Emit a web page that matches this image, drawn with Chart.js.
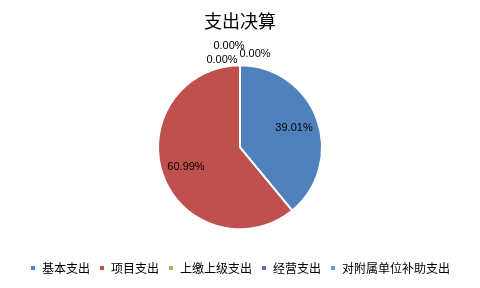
<!DOCTYPE html>
<html><head><meta charset="utf-8">
<script src="https://cdn.jsdelivr.net/npm/chart.js@4"></script>
<style>html,body{margin:0;padding:0;background:#fff}#wrap{width:480px;height:288px}</style>
</head><body><div id="wrap"><canvas id="c" width="480" height="288"></canvas></div>
<script>
const categories = ["基本支出","项目支出","上缴上级支出","经营支出","对附属单位补助支出"];
const values = [39.01, 60.99, 0.00, 0.00, 0.00];
const labelTexts = ["39.01%","60.99%","0.00%","0.00%","0.00%"];
const colors = ["#4F81BD","#C0504D","#9BBB59","#8064A2","#4BACC6"];

const labelPlugin = {
  id:'lbl',
  afterDatasetsDraw(chart){
    const ctx = chart.ctx;
    const meta = chart.getDatasetMeta(0);
    ctx.save();
    ctx.font = '11px "Liberation Sans", Arial, sans-serif';
    ctx.fillStyle = '#000';
    ctx.textAlign='center'; ctx.textBaseline='middle';
    let zeroIdx = 0;
    const zeroOffsets = [[-11,-101],[-18,-87],[15,-93]];
    meta.data.forEach((arc,i)=>{
      const {x,y,startAngle,endAngle,outerRadius} = arc.getProps(['x','y','startAngle','endAngle','outerRadius'],true);
      if (values[i] > 0) {
        const a = (startAngle+endAngle)/2;
        const r = outerRadius*0.7;
        ctx.fillText(labelTexts[i], x+Math.cos(a)*r, y+Math.sin(a)*r);
      } else {
        const o = zeroOffsets[zeroIdx++];
        ctx.fillText(labelTexts[i], x+o[0], y+o[1]);
      }
    });
    ctx.restore();
  }
};

new Chart(document.getElementById('c'), {
  type:'pie',
  data:{labels:categories, datasets:[{data:values, backgroundColor:colors, borderColor:'#fff', borderWidth:2}]},
  options:{
    responsive:false, animation:false,
    radius:82,
    layout:{padding:{top:0,bottom:4}},
    plugins:{
      title:{display:true, text:'支出决算', color:'#000', font:{family:'"Noto Sans CJK SC"', size:18, weight:'normal'}, padding:{top:10,bottom:10}},
      legend:{position:'bottom', labels:{boxWidth:6, boxHeight:6, color:'#000', padding:9, font:{family:'"Noto Sans CJK SC"', size:12}}},
      tooltip:{enabled:false}
    }
  },
  plugins:[labelPlugin]
});
</script></body></html>
